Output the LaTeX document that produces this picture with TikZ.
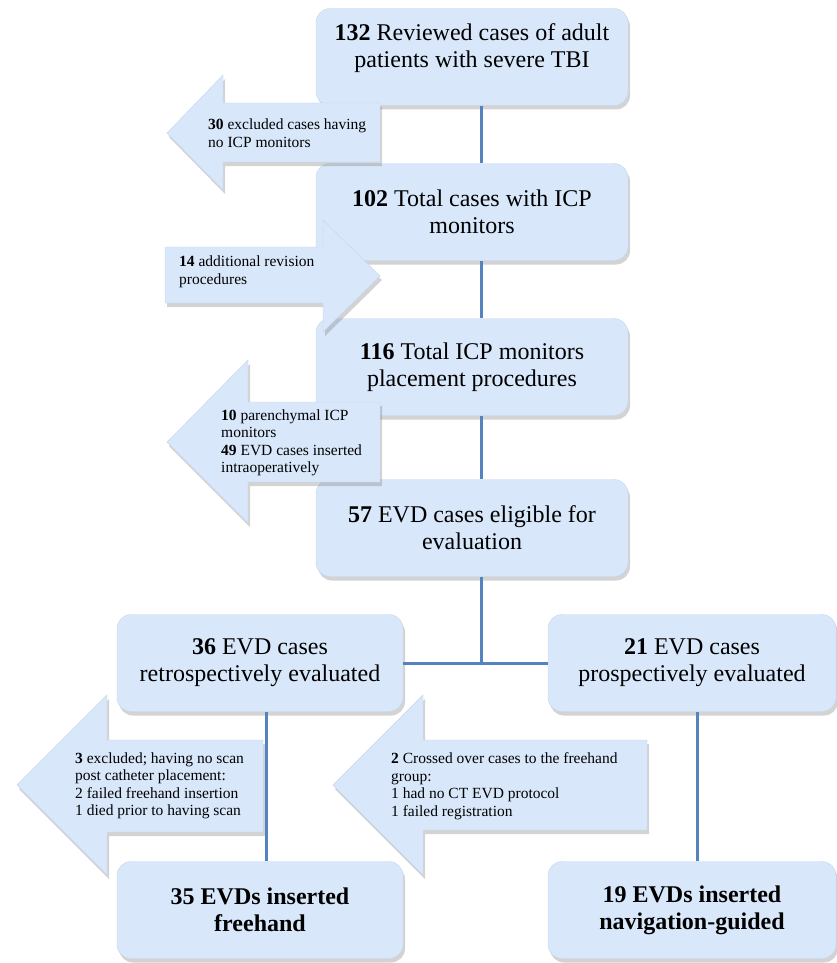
\documentclass[tikz,border=0pt]{standalone}
\usepackage{fontspec}
\setmainfont{Liberation Serif}
\usepackage{tikz}
\usetikzlibrary{shapes, arrows, shadows}
\definecolor{boxfill}{RGB}{216,231,250}
\definecolor{boxedge}{RGB}{196,214,238}
\definecolor{linkblue}{RGB}{84,132,192}
\tikzstyle{box} = [rectangle, rounded corners=14pt, draw=boxedge, fill=boxfill, minimum width=312pt, minimum height=97pt, text centered, align=center, font=\fontsize{24}{27}\selectfont, drop shadow={shadow xshift=2pt, shadow yshift=-4pt, opacity=.35}]
\tikzstyle{lowbox} = [box, minimum width=286pt]
\tikzstyle{link} = [draw=linkblue, line width=3pt]
\tikzstyle{blockarrow} = [fill=boxfill, draw=boxedge, drop shadow={shadow xshift=2pt, shadow yshift=-4pt, opacity=.35}]
\tikzstyle{note} = [anchor=west, align=left, inner sep=0pt, font=\fontsize{15.5}{17.5}\selectfont]

\begin{document}
\begin{tikzpicture}[x=1pt, y=-1pt]
    \useasboundingbox (0,0) rectangle (837,963);

    \node[box] (reviewed) at (472,57) {\textbf{132} Reviewed cases of adult\\patients with severe TBI\\[-4pt]\mbox{}};
    \node[box] (withicp) at (472,212) {\textbf{102} Total cases with ICP\\monitors};
    \node[box] (placement) at (472,367) {\textbf{116} Total ICP monitors\\placement procedures};
    \node[box] (eligible) at (472,528) {\textbf{57} EVD cases eligible for\\evaluation};
    \node[lowbox] (retro) at (260,663) {\textbf{36} EVD cases\\retrospectively evaluated};
    \node[lowbox, minimum width=288pt] (prosp) at (692,663) {\textbf{21} EVD cases\\prospectively evaluated};
    \node[lowbox] (freehand) at (260,910) {\textbf{35 EVDs inserted}\\\textbf{freehand}};
    \node[lowbox, minimum width=288pt] (navigated) at (692,910) {\textbf{19 EVDs inserted}\\\textbf{navigation-guided}};

    \path[link] ([xshift=9pt]reviewed.south) -- ([xshift=9pt]withicp.north);
    \path[link] ([xshift=9pt]withicp.south) -- ([xshift=9pt]placement.north);
    \path[link] ([xshift=9pt]placement.south) -- ([xshift=9pt]eligible.north);
    \path[link] ([xshift=9pt]eligible.south) -- ([xshift=9pt]eligible.south |- retro.east);
    \path[link] (retro.east) -- (prosp.west);
    \path[link] ([xshift=6pt]retro.south) -- ([xshift=6pt]freehand.north);
    \path[link] ([xshift=5pt]prosp.south) -- ([xshift=5pt]navigated.north);

    % side arrows
    \path[blockarrow] (167,133) -- (223,75) -- (223,103) -- (380,103) -- (380,162) -- (223,162) -- (223,190) -- cycle;
    \node[note] (noicp) at (208,133) {\textbf{30} excluded cases having\\no ICP monitors};

    \path[blockarrow] (380,276) -- (323,220) -- (323,247) -- (165,247) -- (165,303) -- (323,303) -- (323,332) -- cycle;
    \node[note] (revision) at (179,272) {\textbf{14} additional revision\\procedures};

    \path[blockarrow] (167,442) -- (248,360) -- (248,402) -- (380,402) -- (380,482) -- (248,482) -- (248,523) -- cycle;
    \node[note] (parenchymal) at (221,443) {\textbf{10} parenchymal ICP\\monitors\\\textbf{49} EVD cases inserted\\intraoperatively};

    \path[blockarrow] (17,785) -- (107,695) -- (107,740) -- (263,740) -- (263,832) -- (107,832) -- (107,875) -- cycle;
    \node[note] (noscan) at (75,786) {\textbf{3} excluded; having no scan\\post catheter placement:\\2 failed freehand insertion\\1 died prior to having scan};

    \path[blockarrow] (333,785) -- (423,695) -- (423,740) -- (647,740) -- (647,830) -- (423,830) -- (423,875) -- cycle;
    \node[note] (crossed) at (391,786) {\textbf{2} Crossed over cases to the freehand\\group:\\1 had no CT EVD protocol\\1 failed registration};
\end{tikzpicture}
\end{document}
